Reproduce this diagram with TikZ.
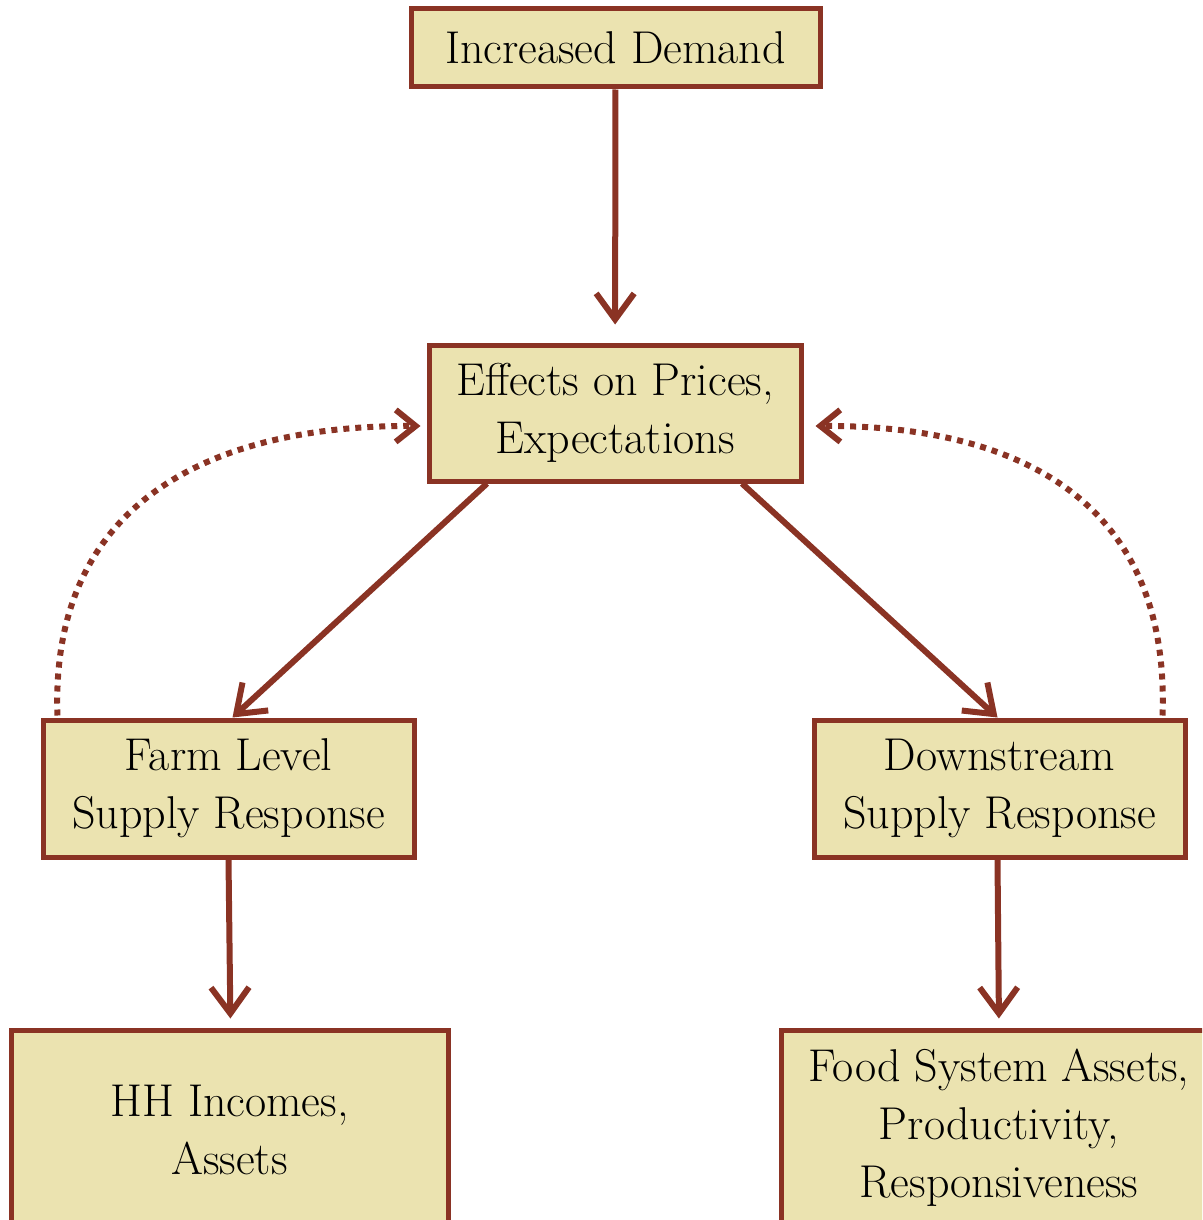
\documentclass[tikz,border=0pt]{standalone}
\usepackage{fontspec}
\setmainfont{Latin Modern Roman}
\usetikzlibrary{arrows.meta}
\definecolor{brd}{HTML}{8A3324}
\definecolor{fil}{HTML}{EBE3B0}
\begin{document}
\begin{tikzpicture}[x=1pt,y=-1pt,
  box/.style={draw=brd,fill=fil,line width=5pt,align=center,inner sep=0pt,
    font=\fontsize{46}{58}\selectfont},
  arr/.style={draw=brd,line width=6pt,-{Straight Barb[length=26pt,width=38pt,line width=6pt]}},
  dots/.style={draw=brd,line width=6pt,dash pattern=on 6pt off 6pt,
    -{Straight Barb[length=20pt,width=32pt,line width=6pt]}}]
\useasboundingbox (0,0) rectangle (1202,1220);
\clip (0,0) rectangle (1202,1220);
\node[box,minimum width=409,minimum height=78] (dem) at (615.5,48) {Increased Demand};
\node[box,minimum width=372,minimum height=136] (eff) at (615,413) {Effects on Prices,\\Expectations};
\node[box,minimum width=371,minimum height=137] (farm) at (228.5,788.5) {Farm Level\\Supply Response};
\node[box,minimum width=371,minimum height=137] (down) at (999.5,788.5) {Downstream\\Supply Response};
\node[box,minimum width=437,minimum height=200] (hh) at (229.5,1130) {HH Incomes,\\Assets};
\node[box,minimum width=436,minimum height=196] (food) at (999,1128) {Food System Assets,\\Productivity,\\Responsiveness};
\draw[arr,shorten >=18pt] (dem) -- (eff);
\draw[arr] ([xshift=-128]eff.south) -- ([xshift=4]farm.north);
\draw[arr] ([xshift=127]eff.south) -- ([xshift=-2]down.north);
\draw[arr,shorten >=9pt] (farm.south) -- ([xshift=1]hh.north);
\draw[arr,shorten >=9pt] ([xshift=-2]down.south) -- (food.north);
\draw[dots] ([xshift=17,yshift=2]farm.north west) .. controls (50,510) and (200,425) .. ([xshift=-6,yshift=-13]eff.west);
\draw[dots] ([xshift=-25,yshift=2]down.north east) .. controls (1170,510) and (1030,425) .. ([xshift=12,yshift=-13]eff.east);
\end{tikzpicture}
\end{document}
